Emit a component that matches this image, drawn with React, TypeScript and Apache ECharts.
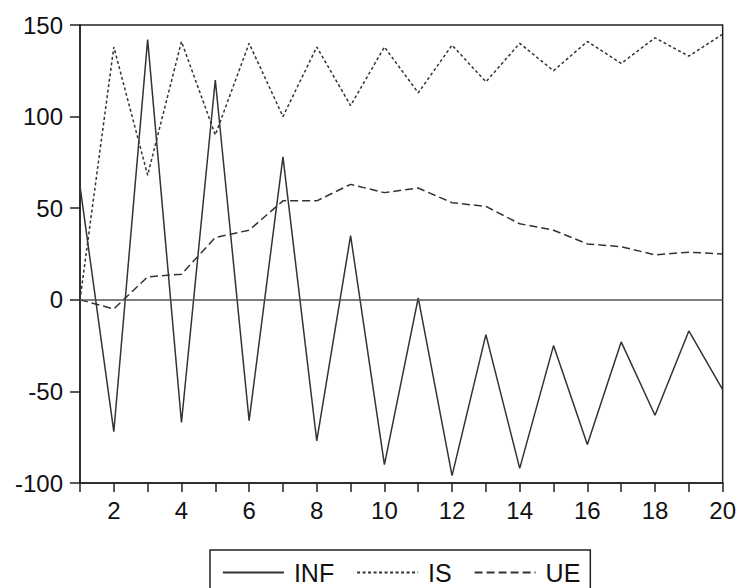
import React, { useEffect, useRef } from "react";
import * as echarts from "echarts";

const periods = [1, 2, 3, 4, 5, 6, 7, 8, 9, 10, 11, 12, 13, 14, 15, 16, 17, 18, 19, 20];
const infValues = [62, -72, 142, -67, 120, -66, 78, -77, 35, -90, 1, -96, -19, -92, -25, -79, -23, -63, -17, -49];
const isValues = [0, 138, 68, 141, 90, 140, 100, 138, 106, 138, 113, 139, 119, 140, 125, 141, 129, 143, 133, 145];
const ueValues = [0, -5, 12.5, 14, 34, 38, 54, 54, 63, 58.5, 61, 53, 51, 41.5, 38, 30.5, 29, 24.5, 26, 25];
const seriesNames = ["INF", "IS", "UE"];

const FONT = "'Liberation Sans', Arial, Helvetica, sans-serif";
const INK = "#222";

export default function App() {
  const ref = useRef<HTMLDivElement>(null);
  useEffect(() => {
    if (!ref.current) return;
    const chart = echarts.init(ref.current, null, { renderer: "svg" });
    const pair = (vals: number[]) => periods.map((p, i) => [p, vals[i]]);
    chart.setOption({
      animation: false,
      backgroundColor: "#fff",
      textStyle: { fontFamily: FONT },
      grid: {
        left: 80,
        top: 25,
        right: 13,
        bottom: 105,
        show: true,
        borderColor: INK,
        borderWidth: 1.5,
      },
      xAxis: {
        type: "value",
        min: 1,
        max: 20,
        interval: 1,
        axisLine: { show: true, onZero: false, lineStyle: { color: INK, width: 1.5 } },
        axisTick: { show: true, inside: false, length: 9, lineStyle: { color: INK, width: 1.5 } },
        axisLabel: {
          margin: 15,
          fontSize: 24,
          color: "#111",
          fontFamily: FONT,
          formatter: (v: number) => (v % 2 === 0 ? String(v) : ""),
        },
        splitLine: { show: false },
      },
      yAxis: {
        type: "value",
        min: -100,
        max: 150,
        interval: 50,
        axisLine: { show: true, lineStyle: { color: INK, width: 1.5 } },
        axisTick: { show: true, inside: false, length: 10, lineStyle: { color: INK, width: 1.5 } },
        axisLabel: { margin: 17, fontSize: 24, color: "#111", fontFamily: FONT },
        splitLine: { show: false },
      },
      legend: {
        data: seriesNames,
        left: 210,
        top: 550,
        orient: "horizontal",
        borderColor: INK,
        borderWidth: 1.5,
        padding: [10, 10, 20, 12],
        itemWidth: 61,
        itemHeight: 20,
        itemGap: 22,
        itemStyle: { opacity: 0 },
        lineStyle: { width: 1.8 },
        textStyle: { fontSize: 25, color: "#111", fontFamily: FONT, padding: [0, 0, 0, 5] },
      },
      series: [
        {
          name: seriesNames[0],
          type: "line",
          data: pair(infValues),
          symbol: "none",
          lineStyle: { color: "#333", width: 1.5, type: "solid" },
          itemStyle: { color: "#333" },
          markLine: {
            silent: true,
            symbol: "none",
            label: { show: false },
            lineStyle: { color: "#555", width: 1.5, type: "solid" },
            data: [{ yAxis: 0 }],
          },
        },
        {
          name: seriesNames[1],
          type: "line",
          data: pair(isValues),
          symbol: "none",
          lineStyle: { color: "#333", width: 1.5, type: [3, 2.5] },
          itemStyle: { color: "#333" },
        },
        {
          name: seriesNames[2],
          type: "line",
          data: pair(ueValues),
          symbol: "none",
          lineStyle: { color: "#333", width: 1.5, type: [8, 4] },
          itemStyle: { color: "#333" },
        },
      ],
    });
    return () => chart.dispose();
  }, []);
  return <div ref={ref} style={{ width: 739, height: 588, position: "absolute", left: 0, top: 0 }} />;
}
